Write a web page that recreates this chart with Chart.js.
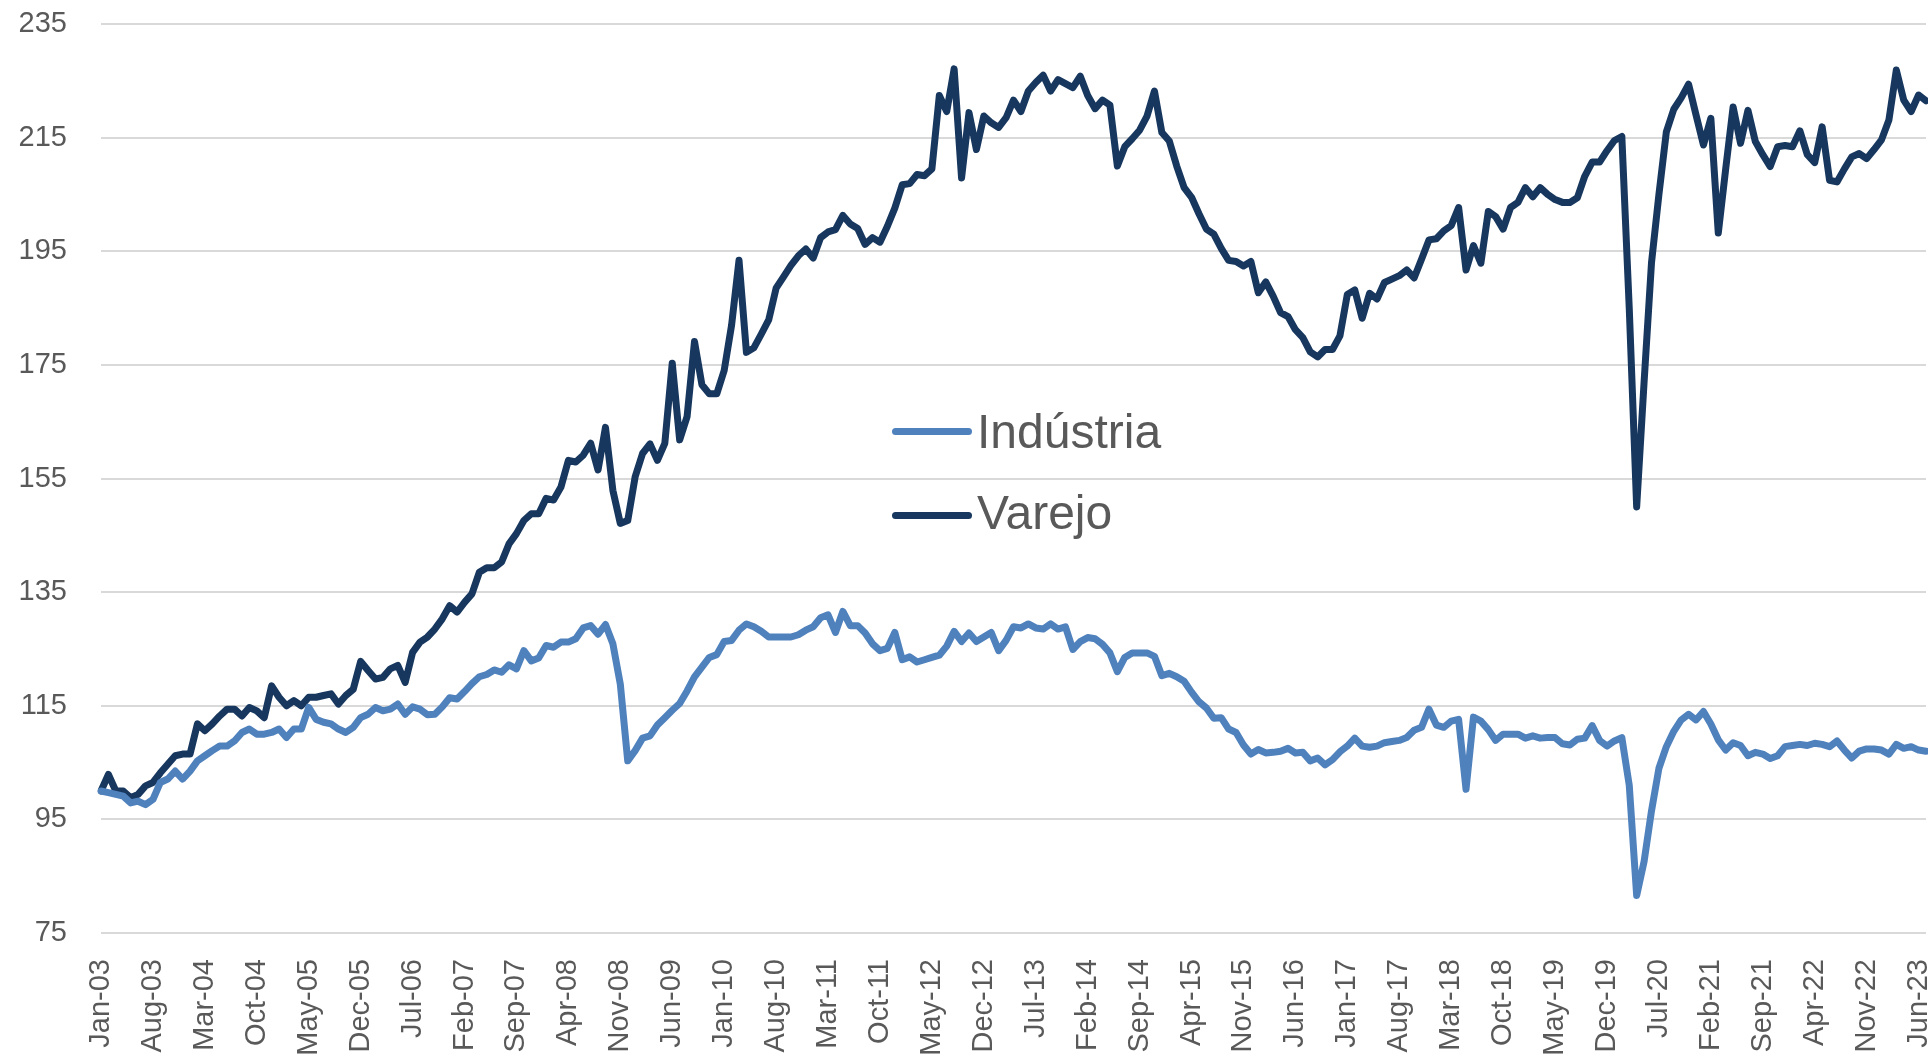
<!DOCTYPE html>
<html>
<head>
<meta charset="utf-8">
<script src="https://cdn.jsdelivr.net/npm/chart.js@4.4.1/dist/chart.umd.min.js"></script>
<style>
  html, body { margin: 0; padding: 0; background: #ffffff; overflow: hidden; width: 1928px; height: 1059px; }
  #wrap { position: absolute; left: 0; top: 0; width: 1945px; height: 1075px; }
  #legend { position: absolute; left: 0; top: 0; font-family: 'Liberation Sans', Arial, sans-serif; color: #595959; }
  .item { position: absolute; left: 892px; height: 60px; white-space: nowrap; }
  .swatch { position: absolute; left: 0; width: 80px; height: 7px; border-radius: 4px; }
  .lbl { position: absolute; left: 85px; font-size: 48px; line-height: 48px; }
</style>
</head>
<body>
<div id="wrap"><canvas id="c"></canvas></div>
<div id="legend">
  <div class="item" style="top:0px;">
    <div class="swatch" style="top:428px;background:#4F81BD;"></div>
    <div class="lbl" style="top:408px;">Indústria</div>
  </div>
  <div class="item" style="top:0px;">
    <div class="swatch" style="top:512px;background:#17375E;"></div>
    <div class="lbl" style="top:489px;">Varejo</div>
  </div>
</div>
<script>
// ---- data (monthly, Jan-03 onward) ----
const monthNames = ['Jan','Feb','Mar','Apr','May','Jun','Jul','Aug','Sep','Oct','Nov','Dec'];
const seriesNames = ['Indústria', 'Varejo'];

const industria = [
  100.0, 99.7, 99.4, 99.1, 97.9, 98.2, 97.6, 98.5, 101.5, 102.1, 103.5, 102.1,
  103.5, 105.3, 106.2, 107.1, 107.9, 107.9, 108.8, 110.3, 110.9, 110.0, 110.0, 110.3,
  110.9, 109.4, 110.9, 110.9, 114.7, 112.6, 112.1, 111.8, 110.9, 110.3, 111.2, 112.9,
  113.5, 114.7, 114.1, 114.4, 115.3, 113.5, 114.8, 114.4, 113.4, 113.5, 114.8, 116.4,
  116.2, 117.5, 118.9, 120.1, 120.5, 121.3, 120.9, 122.2, 121.5, 124.7, 122.9, 123.4,
  125.6, 125.3, 126.2, 126.2, 126.8, 128.7, 129.1, 127.6, 129.3, 125.9, 118.8, 105.3,
  107.1, 109.3, 109.7, 111.6, 112.9, 114.2, 115.4, 117.6, 120.1, 121.8, 123.5, 124.0,
  126.3, 126.5, 128.3, 129.4, 128.9, 128.1, 127.1, 127.1, 127.1, 127.1, 127.5, 128.3,
  128.9, 130.5, 131.0, 127.9, 131.6, 129.1, 129.1, 127.8, 125.9, 124.7, 125.1, 127.9,
  123.1, 123.6, 122.7, 123.1, 123.5, 123.9, 125.5, 128.1, 126.3, 127.8, 126.3, 127.1,
  127.9, 124.7, 126.5, 128.9, 128.7, 129.4, 128.7, 128.5, 129.4, 128.5, 128.9, 124.9,
  126.3, 127.0, 126.8, 125.8, 124.3, 121.0, 123.5, 124.3, 124.3, 124.3, 123.7, 120.3,
  120.7, 120.1, 119.3, 117.4, 115.7, 114.6, 112.8, 112.9, 110.9, 110.3, 108.1, 106.5,
  107.3, 106.7, 106.8, 107.0, 107.5, 106.7, 106.8, 105.3, 105.8, 104.6, 105.5, 106.9,
  107.9, 109.3, 107.9, 107.7, 107.9, 108.5, 108.7, 108.9, 109.4, 110.7, 111.2, 114.4,
  111.6, 111.2, 112.3, 112.6, 100.3, 113.0, 112.3, 110.8, 108.9, 110.0, 110.0, 110.0,
  109.3, 109.7, 109.3, 109.4, 109.4, 108.3, 108.1, 109.1, 109.3, 111.5, 108.9, 107.9,
  108.8, 109.4, 101.0, 81.6, 87.6, 96.5, 104.0, 107.8, 110.5, 112.5, 113.5, 112.5,
  114.0, 111.8, 109.0, 107.2, 108.5, 108.0, 106.2, 106.8, 106.5, 105.7, 106.2, 107.8,
  108.0, 108.2, 108.0, 108.4, 108.2, 107.8, 108.8, 107.2, 105.8, 107.0, 107.4, 107.4,
  107.2, 106.5, 108.2, 107.5, 107.8, 107.2, 107.0
];

const varejo = [
  100.0, 102.9, 100.0, 100.0, 98.8, 99.4, 100.9, 101.5, 103.2, 104.7, 106.2, 106.5,
  106.5, 111.8, 110.6, 111.8, 113.2, 114.4, 114.4, 113.2, 114.7, 114.1, 112.9, 118.5,
  116.5, 115.0, 115.9, 115.0, 116.5, 116.5, 116.8, 117.1, 115.3, 116.8, 117.9, 122.8,
  121.2, 119.7, 120.0, 121.5, 122.1, 119.1, 124.4, 126.2, 127.1, 128.5, 130.3, 132.6,
  131.5, 133.2, 134.7, 138.5, 139.3, 139.3, 140.3, 143.5, 145.3, 147.6, 148.8, 148.8,
  151.5, 151.2, 153.5, 158.2, 157.9, 159.1, 161.2, 156.5, 164.0, 152.9, 147.1, 147.6,
  155.3, 159.4, 161.1, 158.2, 161.2, 175.3, 161.8, 165.9, 179.1, 171.5, 169.9, 169.9,
  174.0, 182.0, 193.4, 177.2, 178.0, 180.4, 182.9, 188.5, 190.5, 192.5, 194.2, 195.4,
  193.8, 197.4, 198.4, 198.8, 201.3, 199.8, 199.0, 196.2, 197.4, 196.6, 199.4, 202.6,
  206.7, 206.9, 208.5, 208.3, 209.5, 222.4, 219.6, 227.1, 207.9, 219.4, 212.9, 218.8,
  217.6, 216.8, 218.5, 221.6, 219.6, 223.2, 224.7, 226.0, 223.2, 225.2, 224.5, 223.8,
  225.8, 222.4, 220.1, 221.6, 220.7, 210.0, 213.4, 214.8, 216.3, 218.8, 223.2, 215.9,
  214.4, 210.0, 206.2, 204.5, 201.6, 198.9, 198.0, 195.5, 193.4, 193.2, 192.4, 193.2,
  187.7, 189.6, 187.1, 184.2, 183.5, 181.2, 179.8, 177.3, 176.4, 177.7, 177.7, 180.1,
  187.4, 188.2, 183.2, 187.6, 186.6, 189.5, 190.1, 190.7, 191.7, 190.3, 193.6, 197.0,
  197.2, 198.6, 199.5, 202.7, 191.7, 196.0, 192.9, 202.0, 201.1, 198.9, 202.7, 203.6,
  206.2, 204.6, 206.2, 205.0, 204.1, 203.6, 203.6, 204.4, 208.2, 210.7, 210.7, 212.7,
  214.5, 215.2, 185.0, 150.0, 172.0, 193.0, 205.0, 216.0, 220.0, 222.0, 224.4, 219.0,
  213.7, 218.4, 198.2, 209.5, 220.4, 214.0, 219.8, 214.3, 212.0, 209.9, 213.4, 213.6,
  213.4, 216.2, 212.0, 210.6, 216.9, 207.5, 207.2, 209.5, 211.6, 212.2, 211.3, 212.9,
  214.6, 218.1, 226.9, 221.6, 219.6, 222.5, 221.5
];

// category labels: "Mon-YY" starting Jan-03
const categories = [];
for (let i = 0; i < industria.length; i++) {
  const yy = 3 + Math.floor(i / 12);
  categories.push(monthNames[i % 12] + '-' + String(yy).padStart(2, '0'));
}
const tickEvery = 7;          // a label every 7 months
const yTicks = { min: 75, max: 235, step: 20 };

const FONT = "'Liberation Sans', Arial, sans-serif";
const TEXT = '#595959';

new Chart(document.getElementById('c'), {
  type: 'line',
  data: {
    labels: categories,
    datasets: [
      { label: seriesNames[0], data: industria, borderColor: '#4F81BD', backgroundColor: '#4F81BD',
        borderWidth: 7, pointRadius: 0, tension: 0, borderJoinStyle: 'round', borderCapStyle: 'round' },
      { label: seriesNames[1], data: varejo, borderColor: '#17375E', backgroundColor: '#17375E',
        borderWidth: 7, pointRadius: 0, tension: 0, borderJoinStyle: 'round', borderCapStyle: 'round' }
    ]
  },
  options: {
    responsive: true,
    maintainAspectRatio: false,
    animation: false,
    layout: { padding: { top: 24, right: 19, left: 1, bottom: 0 } },
    plugins: { legend: { display: false }, tooltip: { enabled: false } },
    scales: {
      x: {
        type: 'category',
        offset: false,
        grid: { display: false, drawTicks: false },
        border: { display: false },
        afterFit: (s) => { s.height = 142; s.paddingLeft = 0; s.paddingRight = 0; },
        ticks: {
          autoSkip: false,
          minRotation: 90,
          maxRotation: 90,
          padding: 26,
          color: TEXT,
          font: { family: FONT, size: 29 },
          callback: function (v, i) { return i % tickEvery === 0 ? this.getLabelForValue(v) : ''; }
        }
      },
      y: {
        min: yTicks.min,
        max: yTicks.max,
        afterFit: (s) => { s.width = 100; s.paddingTop = 0; s.paddingBottom = 0; },
        grid: { color: '#D9D9D9', lineWidth: 2, drawTicks: false },
        border: { display: false },
        ticks: {
          stepSize: yTicks.step,
          padding: 34,
          color: TEXT,
          font: { family: FONT, size: 29 }
        }
      }
    }
  }
});
</script>
</body>
</html>
